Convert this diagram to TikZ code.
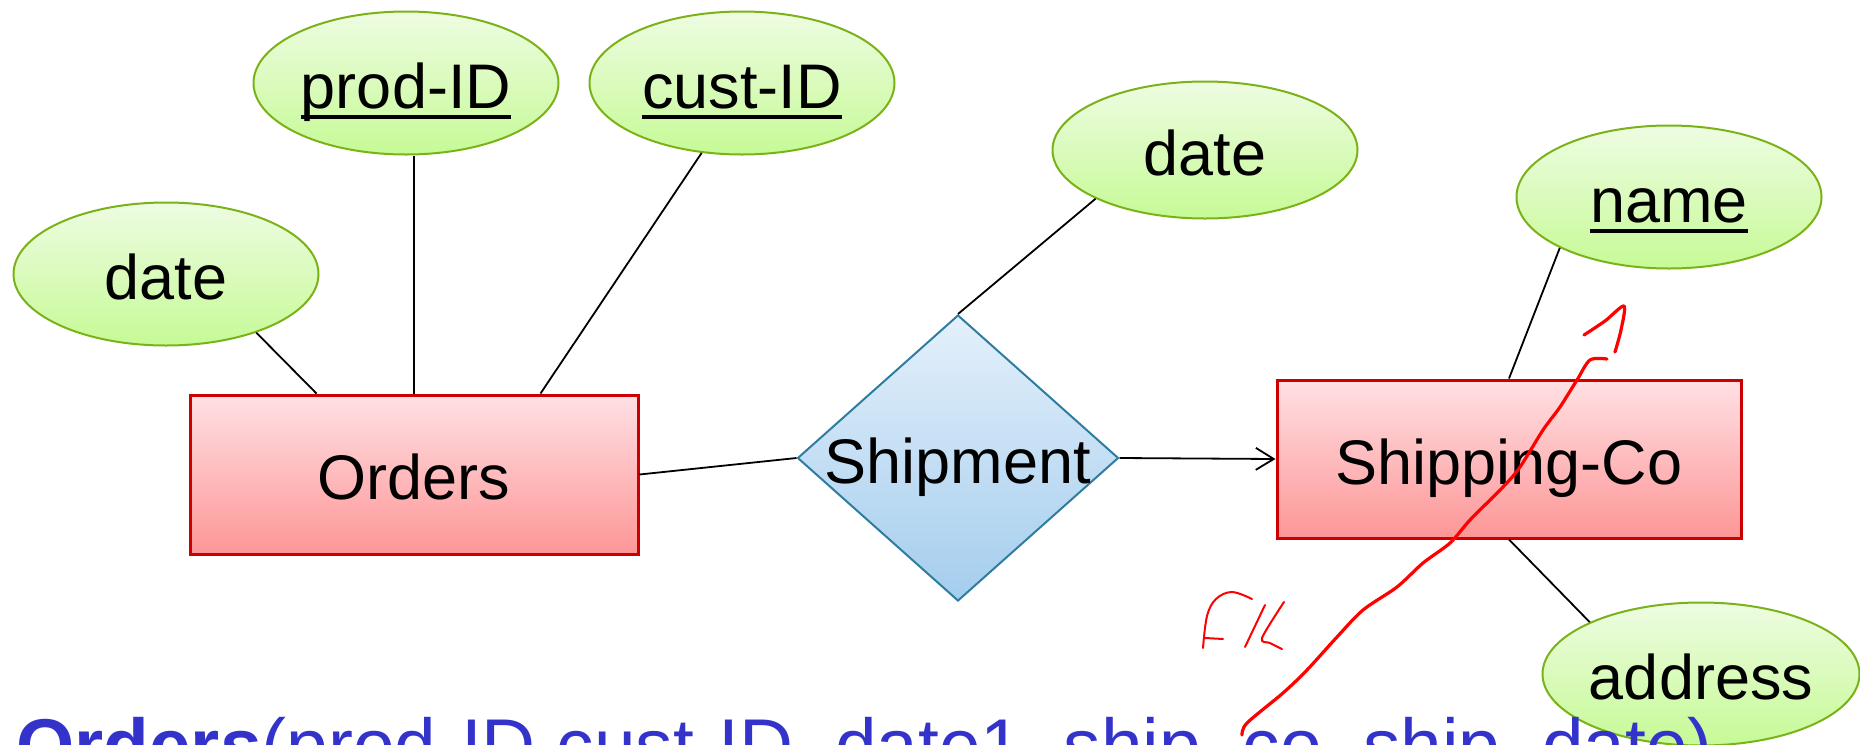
\documentclass[tikz,border=0pt]{standalone}
\usepackage{fontspec}
\setmainfont{Liberation Sans}
\usetikzlibrary{shapes.geometric,arrows.meta,calc}

\definecolor{attrtop}{RGB}{238,252,226}
\definecolor{attrbot}{RGB}{198,250,150}
\definecolor{attrline}{RGB}{122,178,24}
\definecolor{enttop}{RGB}{255,224,228}
\definecolor{entbot}{RGB}{253,150,150}
\definecolor{entline}{RGB}{204,0,0}
\definecolor{reltop}{RGB}{228,240,251}
\definecolor{relbot}{RGB}{164,205,237}
\definecolor{relline}{RGB}{46,125,160}
\definecolor{schemablue}{RGB}{51,51,204}
\definecolor{inkred}{RGB}{255,0,0}

% key attribute: text with a heavy underline
\newcommand{\keyattr}[1]{\setbox0\hbox{#1}\rlap{\rule[-5.5pt]{\wd0}{2pt}}\box0}

\begin{document}
\begin{tikzpicture}[x=0.5pt,y=-0.5pt,
  erfont/.style={font=\fontsize{31.5}{36}\selectfont, text height=25pt, text depth=0pt},
  attr/.style={ellipse, draw=attrline, line width=1pt, top color=attrtop, bottom color=attrbot,
    minimum width=152.5pt, minimum height=71.5pt, inner sep=0pt, erfont},
  entity/.style={rectangle, draw=entline, line width=1.5pt, top color=enttop, bottom color=entbot,
    inner sep=0pt, erfont},
  relation/.style={diamond, draw=relline, line width=1pt, top color=reltop, bottom color=relbot,
    minimum width=160.5pt, minimum height=143pt, inner sep=0pt},
  reltext/.style={inner sep=0pt, erfont},
  conn/.style={draw=black, line width=0.9pt},
  ink/.style={draw=inkred, line width=1.6pt, line cap=round, line join=round},
  inkthin/.style={draw=inkred, line width=1pt, line cap=round, line join=round}]

\clip (0,0) rectangle (1860,745);

% attributes
\node[attr] (dateL) at (166,274) {date};
\node[attr] (prodID) at (406,83) {\keyattr{prod-ID}};
\node[attr] (custID) at (742,83) {\keyattr{cust-ID}};
\node[attr, minimum height=68.5pt] (dateM) at (1205,150) {date};
\node[attr] (name) at (1669,197) {\keyattr{name}};
\node[attr] (address) at (1701,674) {address};

% entity sets
\node[entity, minimum width=224pt, minimum height=79.5pt] (orders) at (414,474.5) {Orders};
\node[entity, minimum width=232pt, minimum height=79pt] (shipco) at (1509,459) {Shipping-Co};

% relationship
\node[relation] (ship) at (958,458) {};
\node[reltext] (shiplabel) at (ship.center) {Shipment};

% connectors
\draw[conn] (dateL.-33) -- ($(orders.north west)+(128,0)$);
\draw[conn] (prodID.south -| orders.north) -- (orders.north);
\draw[conn] (custID.-120) -- ($(orders.north west)+(352,0)$);
\draw[conn] (orders.east) -- (ship.west);
\draw[conn, -{Straight Barb[length=9pt,width=11pt]}] (ship.east) -- (shipco.west);
\draw[conn] (ship.north) -- (dateM.204);
\draw[conn] (shipco.north) -- (name.-155);
\draw[conn] (shipco.south) -- (address.155);

% relational schema line
\node[anchor=base west, inner sep=0pt, text=schemablue, font=\fontsize{37.4}{42}\selectfont]
  (schema) at (16,771) {\textbf{Orders}(prod-ID,cust-ID, date1, ship\_co, ship\_date)};

% handwritten annotation: foreign key arrow
\draw[ink] plot[smooth, tension=0.5] coordinates {(1242,735) (1247,723) (1283,693) (1307,670)
  (1337,637) (1363,610) (1397,587) (1423,563) (1450,543) (1470,520) (1503,487) (1520,467)
  (1543,430) (1560,407) (1577,380) (1590,360) (1607,359)};
\draw[ink] plot[smooth, tension=0.5] coordinates {(1584,335) (1605,321) (1624,306) (1621,330) (1615,352)};

% handwritten "F/K"
\draw[inkthin] plot[smooth, tension=0.6] coordinates {(1203,648) (1207,616) (1216,599) (1232,592) (1252,599)};
\draw[inkthin] (1205,638) -- (1223,639);
\draw[inkthin] (1265,605) -- (1245,647);
\draw[inkthin] plot[smooth, tension=0.5] coordinates {(1284,602) (1262,638) (1270,643) (1282,649)};
\end{tikzpicture}
\end{document}
